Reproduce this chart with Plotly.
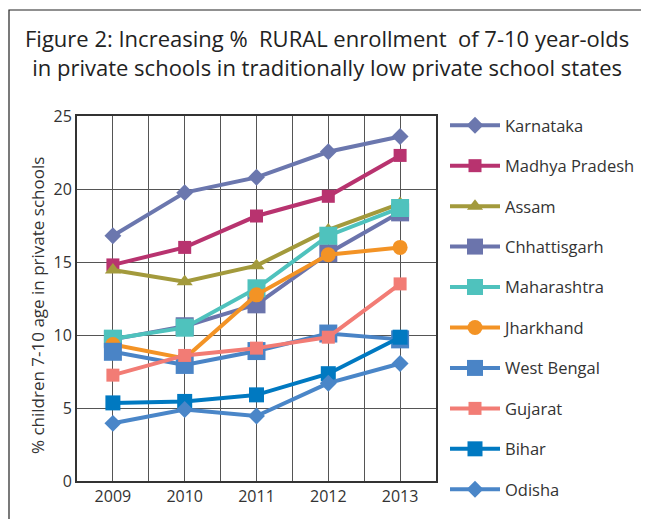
import plotly.graph_objects as go

years = [2009, 2010, 2011, 2012, 2013]
states = ["Karnataka", "Madhya Pradesh", "Assam", "Chhattisgarh", "Maharashtra",
          "Jharkhand", "West Bengal", "Gujarat", "Bihar", "Odisha"]
karnataka = [16.8, 19.75, 20.8, 22.55, 23.6]
madhya_pradesh = [14.8, 16.0, 18.15, 19.5, 22.3]
assam = [14.45, 13.65, 14.75, 17.2, 19.0]
chhattisgarh = [9.7, 10.6, 12.1, 15.6, 18.4]
maharashtra = [9.75, 10.5, 13.2, 16.8, 18.7]
jharkhand = [9.35, 8.4, 12.75, 15.5, 16.0]
west_bengal = [8.85, 7.95, 8.9, 10.1, 9.7]
gujarat = [7.25, 8.6, 9.1, 9.85, 13.5]
bihar = [5.35, 5.45, 5.9, 7.35, 9.85]
odisha = [3.95, 4.9, 4.45, 6.7, 8.05]

series = [karnataka, madhya_pradesh, assam, chhattisgarh, maharashtra,
          jharkhand, west_bengal, gujarat, bihar, odisha]
colors = ["#6b77ae", "#b8336f", "#a39a3c", "#6b74ac", "#4fc2bd",
          "#f39325", "#4a84c6", "#f27c75", "#0079c1", "#4a86c8"]
symbols = ["diamond", "square", "triangle-up", "square", "square",
           "circle", "square", "square", "square", "diamond"]
sizes = [13, 13, 14, 18, 18, 15, 18, 13, 15, 13]

fig = go.Figure()
for i, (name, vals) in enumerate(zip(states, series)):
    fig.add_trace(go.Scatter(
        x=years, y=vals, name=name, mode="lines+markers",
        legendgroup=f"g{i}",
        line=dict(color=colors[i], width=4),
        marker=dict(symbol=symbols[i], size=sizes[i], color=colors[i]),
    ))

# page body has an 8px margin; work in page pixels and convert
OFF = 8
W, H = 649 - OFF, 519 - OFF
L, R, T, B = 77 - OFF, 649 - 436, 116 - OFF, 519 - 481
pw, ph = W - L - R, H - T - B

def px(x):
    return (x - OFF - L) / pw

def py(y):
    return (H - B - (y - OFF)) / ph

fig.add_shape(type="rect", xref="paper", yref="paper",
              x0=px(9), x1=px(646), y0=py(540), y1=py(10),
              line=dict(color="#222", width=1.2), layer="below")

fig.add_annotation(
    text="Figure 2: Increasing %  RURAL enrollment  of 7-10 year-olds<br>in private schools in traditionally low private school states",
    xref="paper", yref="paper", x=px(327), y=py(52), xanchor="center", yanchor="middle",
    showarrow=False, align="center",
    font=dict(size=22, color="#222", family="Open Sans, sans-serif"),
)
fig.add_annotation(
    text="% children 7-10 age in private schools",
    xref="paper", yref="paper", x=px(37), y=py(306), xanchor="center", yanchor="middle",
    showarrow=False, textangle=-90,
    font=dict(size=17, color="#333", family="Open Sans, sans-serif"),
)

fig.update_layout(
    width=W, height=H,
    margin=dict(l=L, r=R, t=T, b=B, autoexpand=False),
    paper_bgcolor="white", plot_bgcolor="white",
    font=dict(family="Open Sans, sans-serif", color="#333"),
    showlegend=True,
    legend=dict(
        x=px(445), xanchor="left", y=py(108), yanchor="top",
        font=dict(size=16.5, color="#333"),
        tracegroupgap=16, itemwidth=50, maxheight=440,
        bgcolor="rgba(0,0,0,0)",
    ),
    xaxis=dict(
        range=[2008.5, 2013.5], tickvals=years, ticktext=[str(y) for y in years],
        showgrid=True, gridcolor="#555", gridwidth=1,
        minor=dict(tickvals=[2008.5, 2009.5, 2010.5, 2011.5, 2012.5, 2013.5],
                   showgrid=True, gridcolor="#555", gridwidth=1),
        showline=True, linecolor="#333", linewidth=2, mirror=True,
        ticks="", tickfont=dict(size=16, color="#333"), zeroline=False,
        automargin=False,
    ),
    yaxis=dict(
        range=[0, 25], dtick=5, showgrid=True, gridcolor="#555", gridwidth=1,
        showline=True, linecolor="#333", linewidth=2, mirror=True,
        ticks="", tickfont=dict(size=16, color="#333"), zeroline=False,
        automargin=False,
    ),
)

fig.write_html("out.html")
